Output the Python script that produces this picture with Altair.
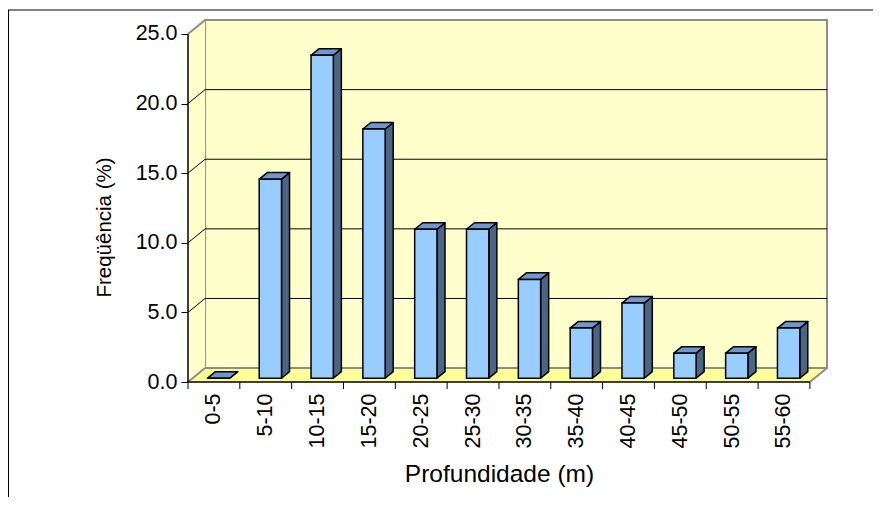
import json
import altair as alt
import pandas as pd

# ---- data ----
cats = ["0-5", "5-10", "10-15", "15-20", "20-25", "25-30",
        "30-35", "35-40", "40-45", "45-50", "50-55", "55-60"]
freq = [0.0, 14.3, 23.2, 17.9, 10.7, 10.7, 7.1, 3.6, 5.4, 1.8, 1.8, 3.6]
y_ticks = [0, 5, 10, 15, 20, 25]
x_title = "Profundidade (m)"
y_title = "Freqüência (%)"

# ---- 3-D style geometry (in data units) ----
n = len(cats)
y_max = y_ticks[-1]
DX, DY = 0.33, 1.0          # depth of the box
F0, F1 = 0.27, 0.74         # bar depth: front / back fraction
HW = 0.215                  # half width of bar front face

W, H = 639, 362
FONT = "Liberation Sans"

xs = alt.Scale(domain=[0, n + DX], nice=False, zero=False)
ys = alt.Scale(domain=[0, y_max + DY], nice=False, zero=False)

label_expr = json.dumps(cats) + "[round(datum.value - 0.5)]"
x_axis = alt.Axis(values=[i + 0.5 for i in range(n)], labelExpr=label_expr,
                  labelAngle=-90, ticks=False, domain=False, grid=False,
                  labelPadding=11, labelFontSize=21.5, title=x_title,
                  titleFontSize=24.5, titleFontWeight="normal",
                  titleX=311, titleY=99, titleBaseline="alphabetic",
                  titleAlign="center")
y_axis = alt.Axis(values=y_ticks, format=".1f", tickSize=7, tickColor="black",
                  domain=False, grid=False, labelPadding=4, labelFontSize=21.5,
                  title=y_title, titleFontSize=20.5, titleFontWeight="normal",
                  titleX=-84, titleY=207, titleBaseline="middle",
                  titleAlign="center", titleAngle=-90)


def X(f):
    return alt.X(f, type="quantitative", scale=xs, axis=x_axis, stack=False)


def Y(f):
    return alt.Y(f, type="quantitative", scale=ys, axis=y_axis, stack=False)


# walls and floor
back = pd.DataFrame({"x": [DX], "x2": [n + DX], "y": [DY], "y2": [y_max + DY]})
left_wall = pd.DataFrame({"x": [0, DX], "lo": [0, DY], "hi": [y_max, y_max + DY]})
floor = pd.DataFrame({"y": [0, DY], "xa": [0, DX], "xb": [n, n + DX]})

grid_back = pd.DataFrame({"x": DX, "x2": n + DX, "y": [v + DY for v in y_ticks[1:-1]]})
grid_diag = pd.DataFrame({"x": 0, "x2": DX, "y": y_ticks[1:-1],
                          "y2": [v + DY for v in y_ticks[1:-1]]})
gray_diag = pd.DataFrame({"x": [0, 0, n], "x2": [DX, DX, n + DX],
                          "y": [0, y_max, 0], "y2": [DY, y_max + DY, DY]})

# bars
front_rows, side_rows, top_rows = [], [], []
ddx = (F1 - F0) * DX
for i, v in enumerate(freq):
    xc = i + 0.5 + F0 * DX
    xl, xr = xc - HW, xc + HW
    front_rows.append({"bar": i, "xl": xl, "xr": xr, "y0": F0 * DY, "y1": v + F0 * DY})
    side_rows.append({"bar": i, "x": xr, "lo": F0 * DY, "hi": v + F0 * DY})
    side_rows.append({"bar": i, "x": xr + ddx, "lo": F1 * DY, "hi": v + F1 * DY})
    top_rows.append({"bar": i, "y": v + F0 * DY, "xa": xl, "xb": xr})
    top_rows.append({"bar": i, "y": v + F1 * DY, "xa": xl + ddx, "xb": xr + ddx})
front = pd.DataFrame(front_rows)
side = pd.DataFrame(side_rows)
top = pd.DataFrame(top_rows)

WALL = "#FFFFCC"
FLOOR = "#FFFF99"
EDGE = "#8C8C8C"
BAR_FRONT = "#99CCFF"
BAR_SIDE = "#4B6584"
BAR_TOP = "#6F97CC"

layers = []
layers.append(alt.Chart(back).mark_rect(fill=WALL, stroke=EDGE, strokeWidth=2)
              .encode(x=X("x"), x2="x2", y=Y("y"), y2="y2"))
layers.append(alt.Chart(left_wall).mark_area(fill=WALL)
              .encode(x=X("x"), y=Y("lo"), y2="hi"))
layers.append(alt.Chart(floor).mark_area(orient="horizontal", fill=FLOOR)
              .encode(y=Y("y"), x=X("xa"), x2="xb"))
layers.append(alt.Chart(gray_diag).mark_rule(color=EDGE, strokeWidth=2)
              .encode(x=X("x"), x2="x2", y=Y("y"), y2="y2"))
layers.append(alt.Chart(grid_back).mark_rule(color="black", strokeWidth=1)
              .encode(x=X("x"), x2="x2", y=Y("y")))
layers.append(alt.Chart(grid_diag).mark_rule(color="black", strokeWidth=1)
              .encode(x=X("x"), x2="x2", y=Y("y"), y2="y2"))
# bottom edge of back wall (floor junction) redraw
layers.append(alt.Chart(pd.DataFrame({"x": [DX], "x2": [n + DX], "y": [DY]}))
              .mark_rule(color=EDGE, strokeWidth=2)
              .encode(x=X("x"), x2="x2", y=Y("y")))
# front axis lines
layers.append(alt.Chart(pd.DataFrame({"x": [0], "y": [0], "y2": [y_max]}))
              .mark_rule(color="black", strokeWidth=1.5)
              .encode(x=X("x"), y=Y("y"), y2="y2"))
layers.append(alt.Chart(pd.DataFrame({"x": [0], "x2": [n], "y": [0]}))
              .mark_rule(color="black", strokeWidth=1.5)
              .encode(x=X("x"), x2="x2", y=Y("y")))
layers.append(alt.Chart(pd.DataFrame({"x": list(range(n + 1)), "y": 0}))
              .mark_rule(color="black", strokeWidth=1)
              .encode(x=X("x"), y=Y("y"), y2=alt.value(H + 7)))
# bars
layers.append(alt.Chart(side).mark_area(fill=BAR_SIDE, stroke="black", strokeWidth=1.5,
                                        strokeJoin="round")
              .encode(x=X("x"), y=Y("lo"), y2="hi", detail="bar:N"))
layers.append(alt.Chart(top).mark_area(orient="horizontal", fill=BAR_TOP, stroke="black",
                                       strokeWidth=1.5, strokeJoin="round")
              .encode(y=Y("y"), x=X("xa"), x2="xb", detail="bar:N"))
layers.append(alt.Chart(front).mark_rect(fill=BAR_FRONT, stroke="black", strokeWidth=1.5)
              .encode(x=X("xl"), x2="xr", y=Y("y0"), y2="y1"))
# outer chart-area frame (decoration, pixel space)
one = pd.DataFrame({"k": [0]})
layers.append(alt.Chart(one).mark_rule(color="black", strokeWidth=1, clip=False)
              .encode(x=alt.value(-181), x2=alt.value(W + 60), y=alt.value(-10)))
layers.append(alt.Chart(one).mark_rule(color="black", strokeWidth=1, clip=False)
              .encode(x=alt.value(-179.5), y=alt.value(-10), y2=alt.value(H + 130)))

chart = (alt.layer(*layers)
         .properties(width=W, height=H,
                     autosize=alt.AutoSizeParams(type="none"),
                     padding={"left": 180, "top": 12, "right": 46, "bottom": 115},
                     background="white")
         .configure_view(stroke="transparent")
         .configure_axis(labelFont=FONT, titleFont=FONT, labelColor="black",
                         titleColor="black"))

chart.save("out.html", embed_options={"renderer": "svg", "actions": False})
